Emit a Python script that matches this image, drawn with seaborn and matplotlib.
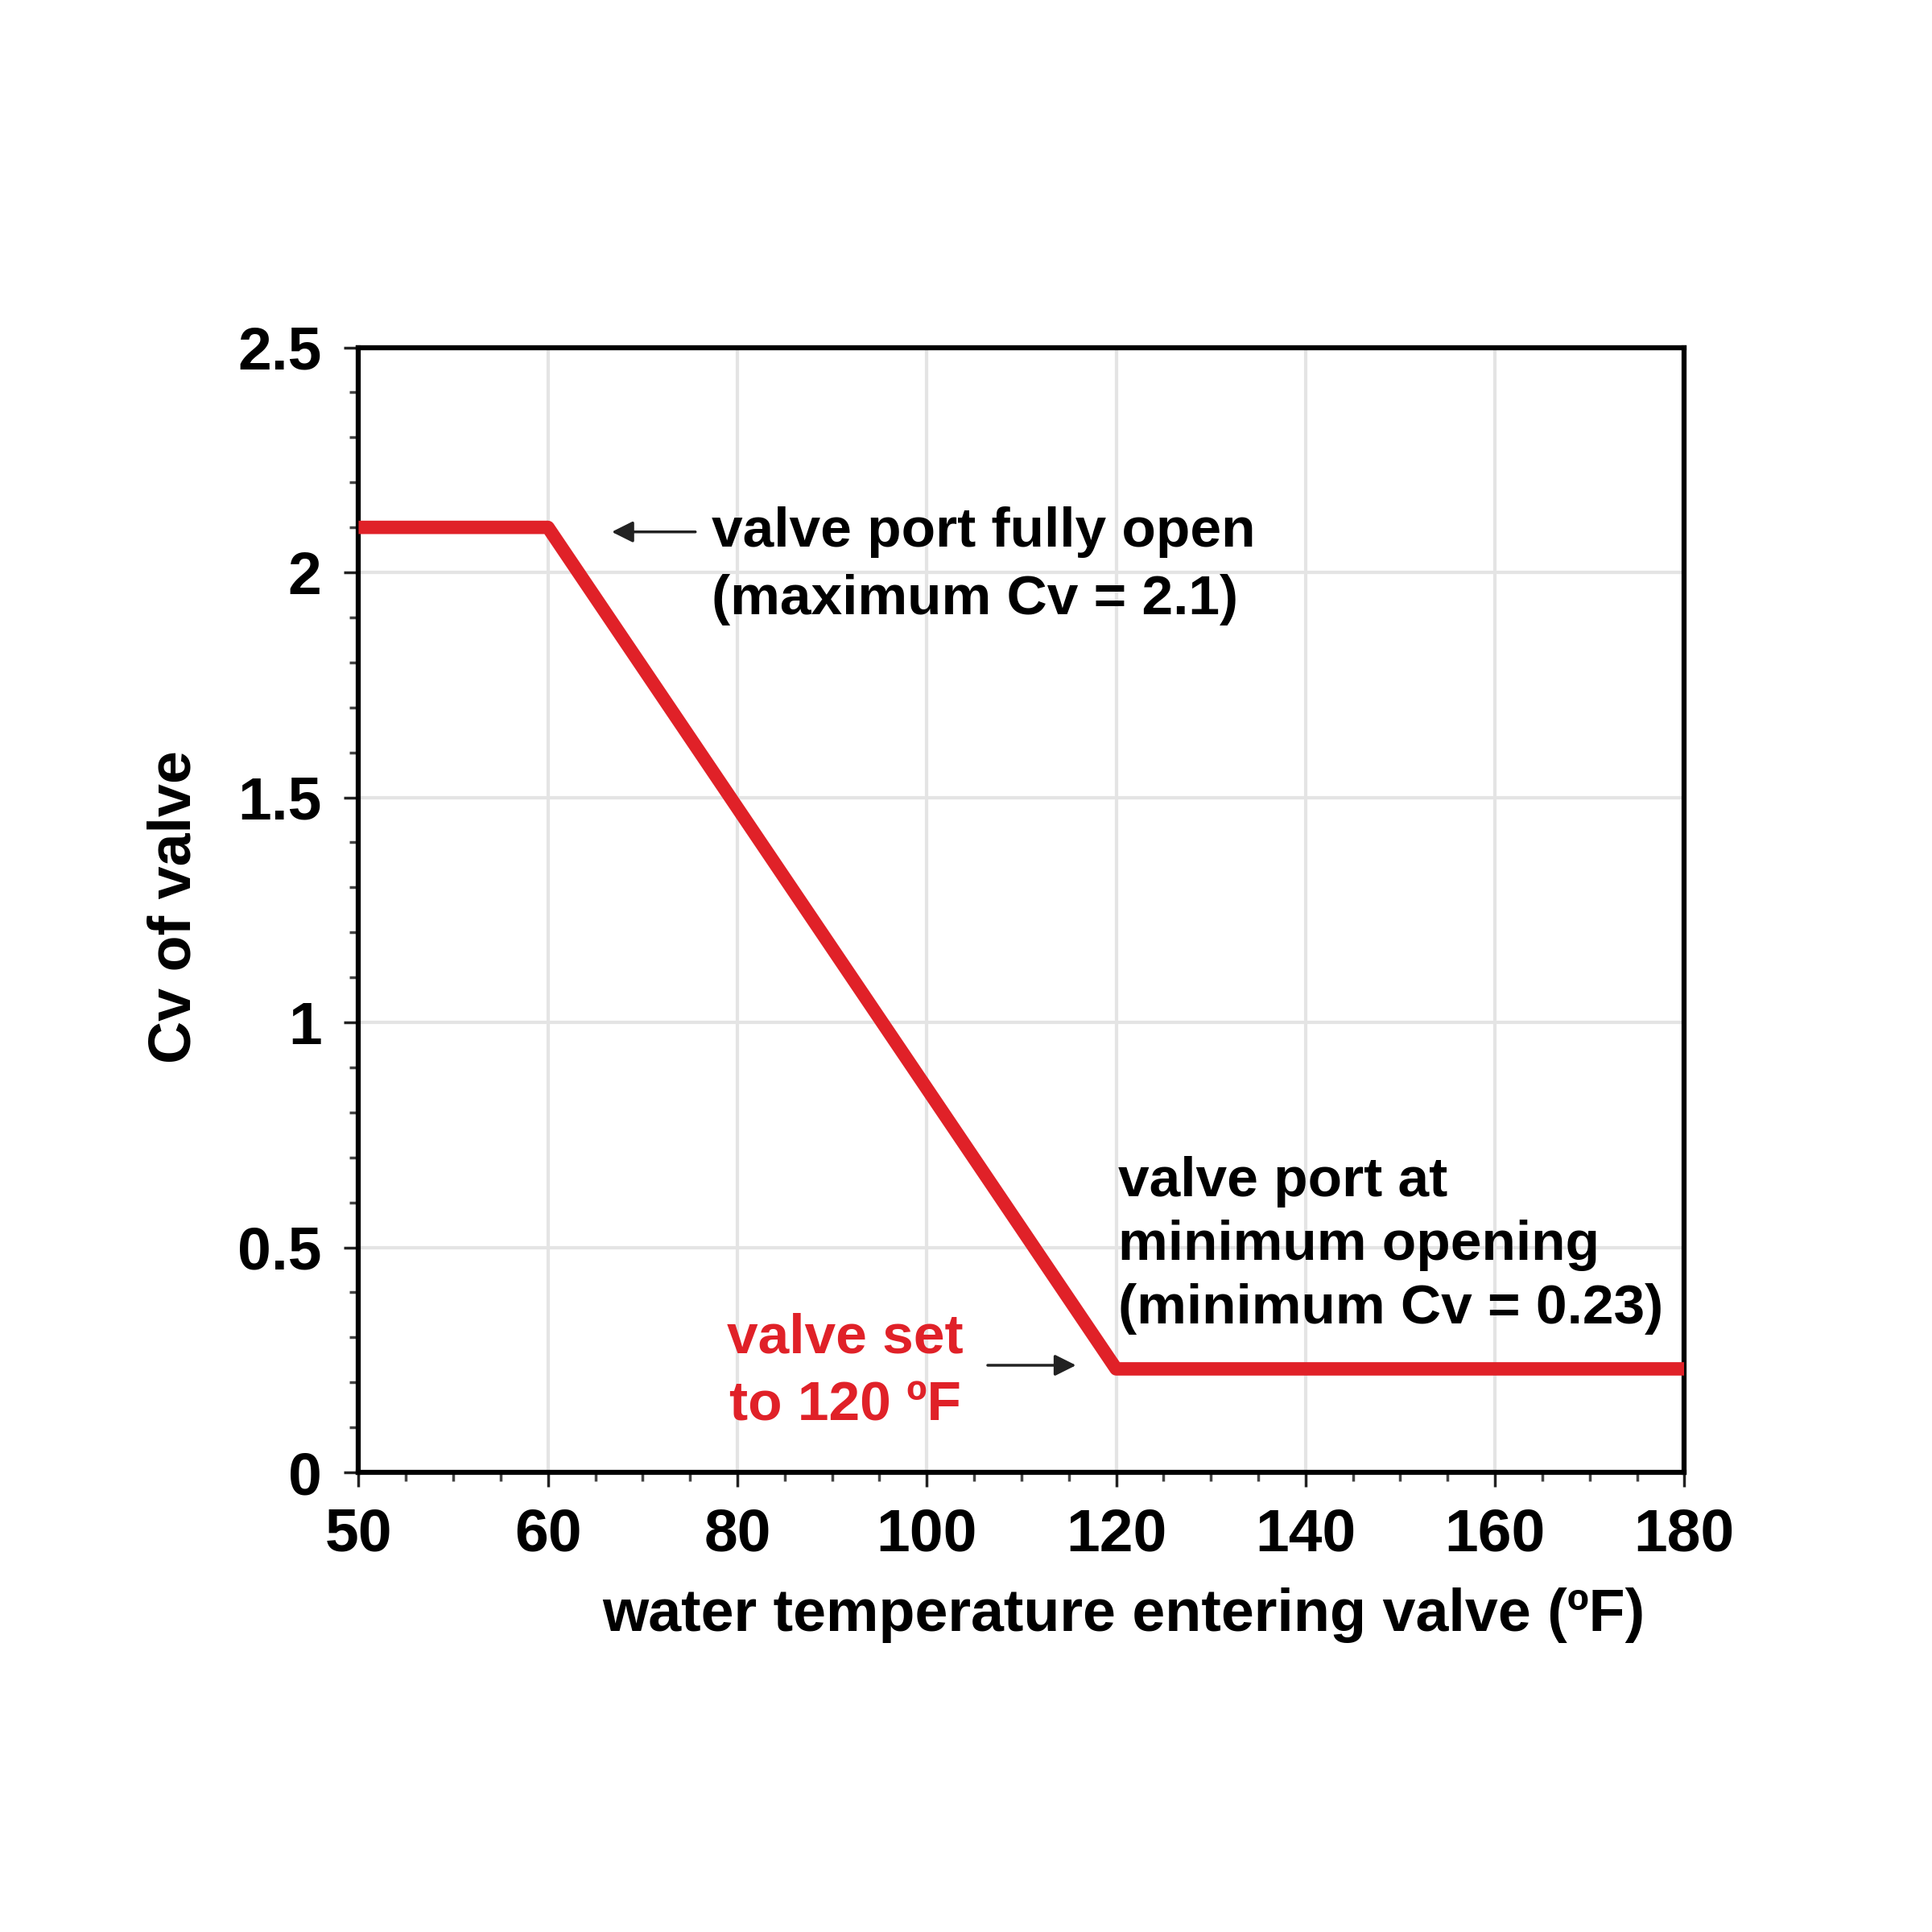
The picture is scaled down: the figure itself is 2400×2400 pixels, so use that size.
import numpy as np
import matplotlib
matplotlib.use('Agg')
import matplotlib.pyplot as plt
import seaborn as sns

# Data
temp_ticks = [50, 60, 80, 100, 120, 140, 160, 180]
cv_ticks = [0, 0.5, 1, 1.5, 2, 2.5]
cv_tick_labels = ['0', '0.5', '1', '1.5', '2', '2.5']
temps = [50, 60, 120, 180]
cv = [2.1, 2.1, 0.23, 0.23]

sns.set_theme(style='white')
plt.rcParams['font.family'] = ['Liberation Sans', 'DejaVu Sans']
plt.rcParams['text.color'] = 'black'
plt.rcParams['xtick.color'] = 'black'
plt.rcParams['ytick.color'] = 'black'
plt.rcParams['axes.labelcolor'] = 'black'

fig = plt.figure(figsize=(24, 24), dpi=100)
ax = fig.add_axes([0.1856, 0.2379, 0.8718 - 0.1856, 0.8202 - 0.2379])

# the x axis spaces its labelled temperatures evenly (50 -> 60 as wide as 60 -> 80)
tick_pos = np.arange(len(temp_ticks), dtype=float)


def fwd(x):
    return np.interp(x, temp_ticks, tick_pos)


def inv(p):
    return np.interp(p, tick_pos, temp_ticks)


ax.set_xscale('function', functions=(fwd, inv))

sns.lineplot(x=temps, y=cv, ax=ax, color='#e02128', linewidth=12,
             estimator=None, sort=False, solid_capstyle='butt', zorder=3)

ax.set_xlim(50, 180)
ax.set_ylim(0, 2.5)
ax.set_xticks(temp_ticks)
ax.set_xticklabels([str(t) for t in temp_ticks], fontweight='bold')
ax.set_yticks(cv_ticks)
ax.set_yticklabels(cv_tick_labels, fontweight='bold')

# minor ticks: three between each pair of labelled values
minor_x = []
for a, b in zip(temp_ticks[:-1], temp_ticks[1:]):
    minor_x += [a + (b - a) * k / 4 for k in (1, 2, 3)]
ax.set_xticks(minor_x, minor=True)
ax.set_yticks(np.arange(0, 2.51, 0.1), minor=True)

ax.grid(True, which='major', color='#e4e4e4', linewidth=3, zorder=0)
ax.tick_params(axis='both', which='major', direction='out', length=13, width=2.5,
               color='#222222', labelsize=54, left=True, bottom=True)
ax.tick_params(axis='x', which='major', pad=18)
ax.tick_params(axis='y', which='major', pad=20)
ax.tick_params(axis='both', which='minor', direction='out', length=8, width=2.5,
               color='#444444', left=True, bottom=True)

for s in ax.spines.values():
    s.set_visible(True)
    s.set_color('black')
    s.set_linewidth(4.5)

ax.set_xlabel('water temperature entering valve (ºF)', fontsize=53, fontweight='bold')
ax.xaxis.set_label_coords(0.577, -0.102)
ax.set_ylabel('Cv of valve', fontsize=53, fontweight='bold')
ax.yaxis.set_label_coords(-0.118, 0.503)

# annotations
ax.text(77.3, 2.015, 'valve port fully open\n(maximum Cv = 2.1)', fontsize=50,
        fontweight='bold', ha='left', va='center', linespacing=1.4)
ax.annotate('', xy=(66.5, 2.09), xytext=(75.8, 2.09),
            arrowprops=dict(arrowstyle='-|>', color='#222222', lw=2.5,
                            mutation_scale=40))

ax.text(120.2, 0.504, 'valve port at\nminimum opening\n(minimum Cv = 0.23)', fontsize=50,
        fontweight='bold', ha='left', va='center', linespacing=1.3)

ax.text(91.4, 0.222, 'valve set\nto 120 ºF', fontsize=50, fontweight='bold',
        ha='center', va='center', color='#e02128', linespacing=1.4)
ax.annotate('', xy=(116, 0.238), xytext=(106.2, 0.238),
            arrowprops=dict(arrowstyle='-|>', color='#222222', lw=2.5,
                            mutation_scale=40))

fig.savefig('out.png', dpi=100, facecolor='white')
